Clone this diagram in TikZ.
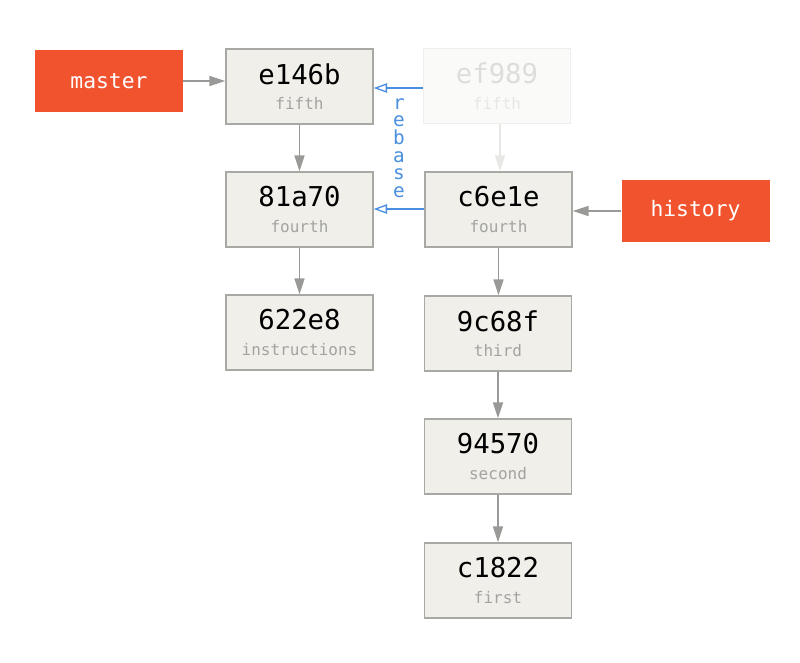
\documentclass[tikz,border=0pt]{standalone}
\usepackage{fontspec}
\setmonofont{DejaVu Sans Mono}
\usetikzlibrary{arrows.meta}
\definecolor{boxfill}{HTML}{F0EFEA}
\definecolor{boxline}{HTML}{A8A8A5}
\definecolor{subtxt}{HTML}{A3A3A0}
\definecolor{branch}{HTML}{F1532F}
\definecolor{arrowgray}{HTML}{999997}
\definecolor{rebaseblue}{HTML}{4A8FE0}
\definecolor{fadefill}{HTML}{FAFAF8}
\definecolor{fadeline}{HTML}{EEEEEC}
\definecolor{fadetxt}{HTML}{DDDDDB}
\begin{document}
\begin{tikzpicture}[x=0.75pt,y=-0.75pt,
  commit/.style={draw=boxline,fill=boxfill,line width=1pt,minimum width=110.25pt,minimum height=56.25pt,inner sep=0pt,align=center,font=\ttfamily},
  faded/.style={commit,draw=fadeline,fill=fadefill},
  branchbox/.style={fill=branch,minimum width=111pt,minimum height=46.5pt,inner sep=0pt,text=white,font=\ttfamily\fontsize{16}{18}\selectfont},
  link/.style={draw=arrowgray,line width=1.2pt,-{Triangle[length=12pt,width=7.5pt]}},
  fadelink/.style={draw=fadeline!80!gray!60,line width=1.2pt,-{Triangle[length=12pt,width=7.5pt]}},
  rebaselink/.style={draw=rebaseblue,line width=1pt,-{Triangle[open,length=10pt,width=7pt]}}]
\useasboundingbox (0,0) rectangle (800,662);
\node[branchbox] (master) at (109,81) {master};
\node[branchbox] (history) at (695.5,211) {history};
\node[commit] (e146b) at (299.5,86.5) {{\fontsize{20.5}{22}\selectfont e146b}\\[7pt]{\fontsize{12}{14}\selectfont\color{subtxt}fifth}};
\node[faded] (ef989) at (497,86) {{\fontsize{20.5}{22}\selectfont\color{fadetxt}ef989}\\[7pt]{\fontsize{12}{14}\selectfont\color{fadetxt!70!white}fifth}};
\node[commit] (81a70) at (299.5,209.5) {{\fontsize{20.5}{22}\selectfont 81a70}\\[7pt]{\fontsize{12}{14}\selectfont\color{subtxt}fourth}};
\node[commit] (c6e1e) at (498.5,209.5) {{\fontsize{20.5}{22}\selectfont c6e1e}\\[7pt]{\fontsize{12}{14}\selectfont\color{subtxt}fourth}};
\node[commit] (622e8) at (299.5,332.5) {{\fontsize{20.5}{22}\selectfont 622e8}\\[7pt]{\fontsize{12}{14}\selectfont\color{subtxt}instructions}};
\node[commit] (9c68f) at (498,333.5) {{\fontsize{20.5}{22}\selectfont 9c68f}\\[7pt]{\fontsize{12}{14}\selectfont\color{subtxt}third}};
\node[commit] (94570) at (498,456.5) {{\fontsize{20.5}{22}\selectfont 94570}\\[7pt]{\fontsize{12}{14}\selectfont\color{subtxt}second}};
\node[commit] (c1822) at (498,580.5) {{\fontsize{20.5}{22}\selectfont c1822}\\[7pt]{\fontsize{12}{14}\selectfont\color{subtxt}first}};
\draw[link] (master) -- (master -| e146b.west);
\draw[link] (history) -- (history -| c6e1e.east);
\draw[link] (e146b) -- (81a70);
\draw[link] (81a70) -- (622e8);
\draw[link] (c6e1e.south) -- (9c68f.north -| c6e1e.south);
\draw[link] (9c68f) -- (94570);
\draw[link] (94570) -- (c1822);
\draw[fadelink] (ef989.south -| 500,0) -- (c6e1e.north -| 500,0);
\draw[rebaselink] (ef989.west |- 0,88) -- (e146b.east |- 0,88);
\draw[rebaselink] (c6e1e.west |- 0,209) -- (81a70.east |- 0,209);
\node[text=rebaseblue,font=\ttfamily\fontsize{14.5}{13.2}\selectfont,align=center,inner sep=0pt] (rebase) at (399,148) {r\\e\\b\\a\\s\\e};
\end{tikzpicture}
\end{document}
